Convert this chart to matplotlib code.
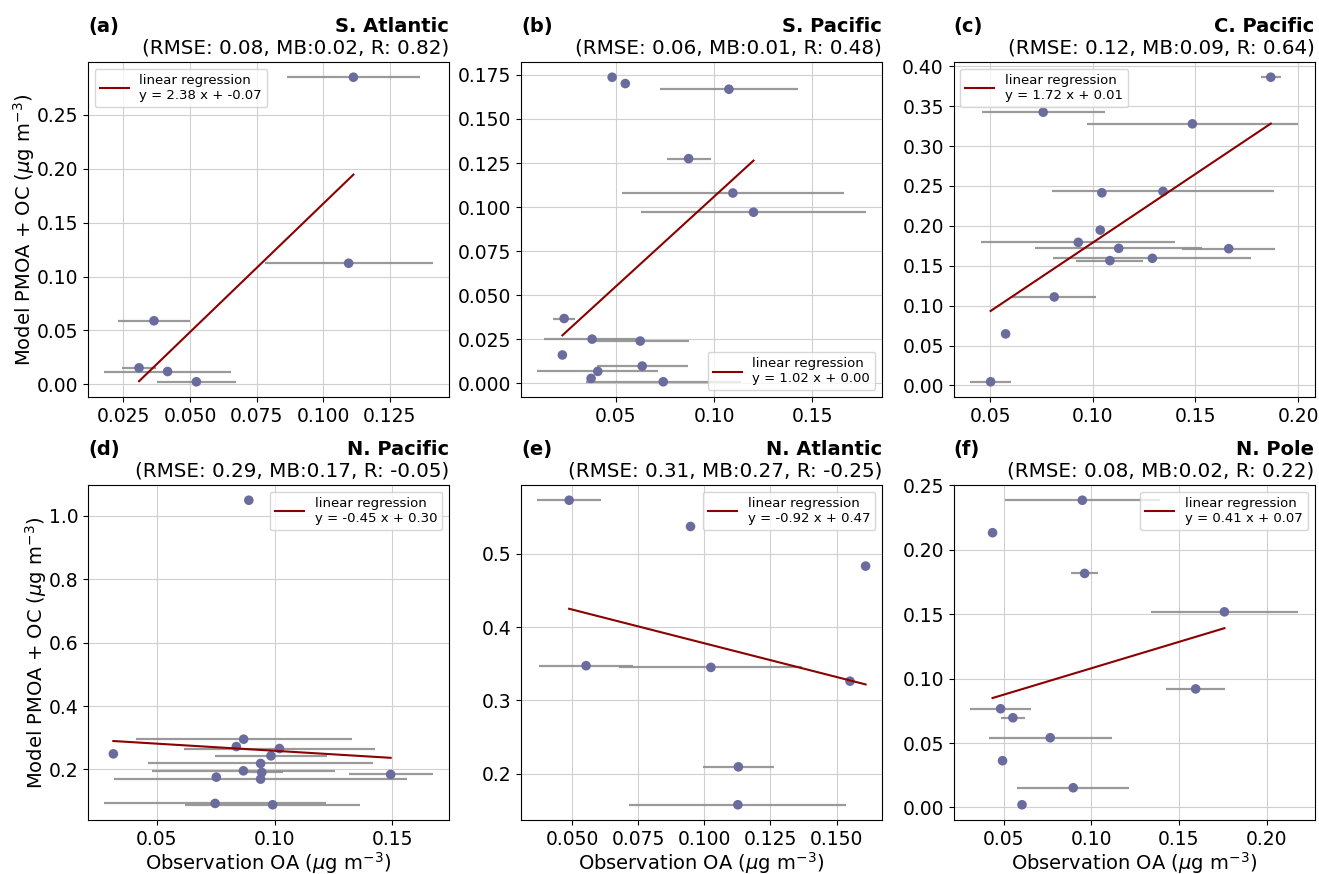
import matplotlib
matplotlib.use("Agg")
import matplotlib.pyplot as plt
from matplotlib.ticker import MultipleLocator
import numpy as np

# ---------------- data ----------------
panel_letters = ["(a)", "(b)", "(c)", "(d)", "(e)", "(f)"]
region_names = ["S. Atlantic", "S. Pacific", "C. Pacific", "N. Pacific", "N. Atlantic", "N. Pole"]
rmse_vals = ["0.08", "0.06", "0.12", "0.29", "0.31", "0.08"]
mb_vals = ["0.02", "0.01", "0.09", "0.17", "0.27", "0.02"]
r_vals = ["0.82", "0.48", "0.64", "-0.05", "-0.25", "0.22"]
slopes = [2.38, 1.02, 1.72, -0.45, -0.92, 0.41]
intercepts = [-0.0705, 0.004, 0.007, 0.304, 0.47, 0.067]
legend_locs = ["upper left", "lower right", "upper left", "upper right", "upper right", "upper right"]
x_tick_steps = [0.025, 0.05, 0.05, 0.05, 0.025, 0.05]
y_tick_steps = [0.05, 0.025, 0.05, 0.2, 0.1, 0.05]

# (a) S. Atlantic
a_obs = [0.1113, 0.1095, 0.0365, 0.0309, 0.0416, 0.0524]
a_mod = [0.2846, 0.1123, 0.0590, 0.0154, 0.0120, 0.0025]
a_err = [0.0250, 0.0315, 0.0134, 0.0065, 0.0237, 0.0149]

# (b) S. Pacific
b_obs = [0.0481, 0.0548, 0.1075, 0.0870, 0.1095, 0.1200, 0.0237, 0.0379, 0.0624,
         0.0228, 0.0634, 0.0408, 0.0374, 0.0741]
b_mod = [0.1737, 0.1701, 0.1669, 0.1275, 0.1080, 0.0971, 0.0368, 0.0251, 0.0240,
         0.0161, 0.0098, 0.0068, 0.0028, 0.0009]
b_err = [0.0, 0.0, 0.0352, 0.0112, 0.0565, 0.0570, 0.0055, 0.0245, 0.0246,
         0.0, 0.0232, 0.0307, 0.0, 0.0394]

# (c) C. Pacific
c_obs = [0.1867, 0.0758, 0.1485, 0.1044, 0.1342, 0.1036, 0.0929, 0.1126, 0.1662,
         0.1290, 0.1083, 0.0812, 0.0575, 0.0502]
c_mod = [0.3862, 0.3424, 0.3278, 0.2414, 0.2431, 0.1947, 0.1793, 0.1718, 0.1714,
         0.1593, 0.1564, 0.1109, 0.0646, 0.0046]
c_err = [0.0050, 0.0299, 0.0515, 0.0, 0.0540, 0.0, 0.0472, 0.0406, 0.0226,
         0.0482, 0.0163, 0.0204, 0.0, 0.0101]

# (d) N. Pacific
d_obs = [0.0891, 0.0316, 0.0869, 0.0838, 0.1021, 0.0985, 0.0941, 0.0868, 0.0946,
         0.0753, 0.0941, 0.1493, 0.0748, 0.0992]
d_mod = [1.0493, 0.2493, 0.2955, 0.2724, 0.2661, 0.2430, 0.2189, 0.1958, 0.1906,
         0.1759, 0.1696, 0.1843, 0.0929, 0.0887]
d_err = [0.0, 0.0, 0.0458, 0.0, 0.0407, 0.0238, 0.0477, 0.0389, 0.0089,
         0.0, 0.0621, 0.0178, 0.0470, 0.0373]

# (e) N. Atlantic
e_obs = [0.0489, 0.0948, 0.1610, 0.0553, 0.1025, 0.1551, 0.1129, 0.1127]
e_mod = [0.5730, 0.5372, 0.4832, 0.3474, 0.3451, 0.3263, 0.2095, 0.1578]
e_err = [0.0120, 0.0, 0.0, 0.0177, 0.0346, 0.0, 0.0133, 0.0410]

# (f) N. Pole
f_obs = [0.0949, 0.0437, 0.0962, 0.1759, 0.1595, 0.0483, 0.0553, 0.0766, 0.0494,
         0.0897, 0.0605]
f_mod = [0.2384, 0.2132, 0.1816, 0.1518, 0.0920, 0.0766, 0.0696, 0.0541, 0.0363,
         0.0153, 0.0021]
f_err = [0.0442, 0.0, 0.0076, 0.0420, 0.0168, 0.0175, 0.0070, 0.0350, 0.0,
         0.0318, 0.0]

obs_all = [a_obs, b_obs, c_obs, d_obs, e_obs, f_obs]
mod_all = [a_mod, b_mod, c_mod, d_mod, e_mod, f_mod]
err_all = [a_err, b_err, c_err, d_err, e_err, f_err]

# ---------------- figure ----------------
plt.rcParams['font.family'] = ['DejaVu Sans']
fig = plt.figure(figsize=(13.19, 8.74), dpi=100)

W, H = 1319.0, 874.0
lefts = [88 / W, 521 / W, 953.5 / W]
bottoms = [1 - 397 / H, 1 - 820 / H]
aw = 361 / W
ah = 335 / H

point_color = '#6b6c9e'
err_color = '#8f8f8f'
line_color = '#8b0000'

for i in range(6):
    row, col = divmod(i, 3)
    ax = fig.add_axes([lefts[col], bottoms[row], aw, ah])
    x = np.array(obs_all[i])
    y = np.array(mod_all[i])
    xe = np.array(err_all[i])

    ax.errorbar(x, y, xerr=xe, fmt='none', ecolor=err_color, elinewidth=1.6,
                capsize=0, alpha=0.9, zorder=2)
    ax.scatter(x, y, s=48, color=point_color, edgecolors='none', zorder=3)
    xx = np.array([x.min(), x.max()])
    ax.plot(xx, slopes[i] * xx + intercepts[i], color=line_color, lw=1.5, zorder=4,
            label=f"linear regression\ny = {slopes[i]:.2f} x + {intercepts[i]:.2f}")

    ax.xaxis.set_major_locator(MultipleLocator(x_tick_steps[i]))
    ax.yaxis.set_major_locator(MultipleLocator(y_tick_steps[i]))
    ax.grid(True, color='#d0d0d0', lw=0.8, zorder=0)
    ax.set_axisbelow(True)
    ax.tick_params(labelsize=13.5)
    ax.legend(loc=legend_locs[i], fontsize=9.5, handlelength=2.2)

    ax.annotate(panel_letters[i], xy=(0, 1), xycoords='axes fraction',
                xytext=(0, 19), textcoords='offset points', ha='left', va='bottom',
                fontsize=14, fontweight='bold')
    ax.annotate(region_names[i], xy=(1, 1), xycoords='axes fraction',
                xytext=(0, 19), textcoords='offset points', ha='right', va='bottom',
                fontsize=14, fontweight='bold')
    ax.annotate(f"(RMSE: {rmse_vals[i]}, MB:{mb_vals[i]}, R: {r_vals[i]})",
                xy=(1, 1), xycoords='axes fraction',
                xytext=(0, 3), textcoords='offset points', ha='right', va='bottom',
                fontsize=14.3)

    if col == 0:
        ax.set_ylabel(r"Model PMOA + OC ($\mu$g m$^{-3}$)", fontsize=14, labelpad=0)
    if row == 1:
        ax.set_xlabel(r"Observation OA ($\mu$g m$^{-3}$)", fontsize=14, labelpad=1)

fig.savefig("out.png", dpi=100)
